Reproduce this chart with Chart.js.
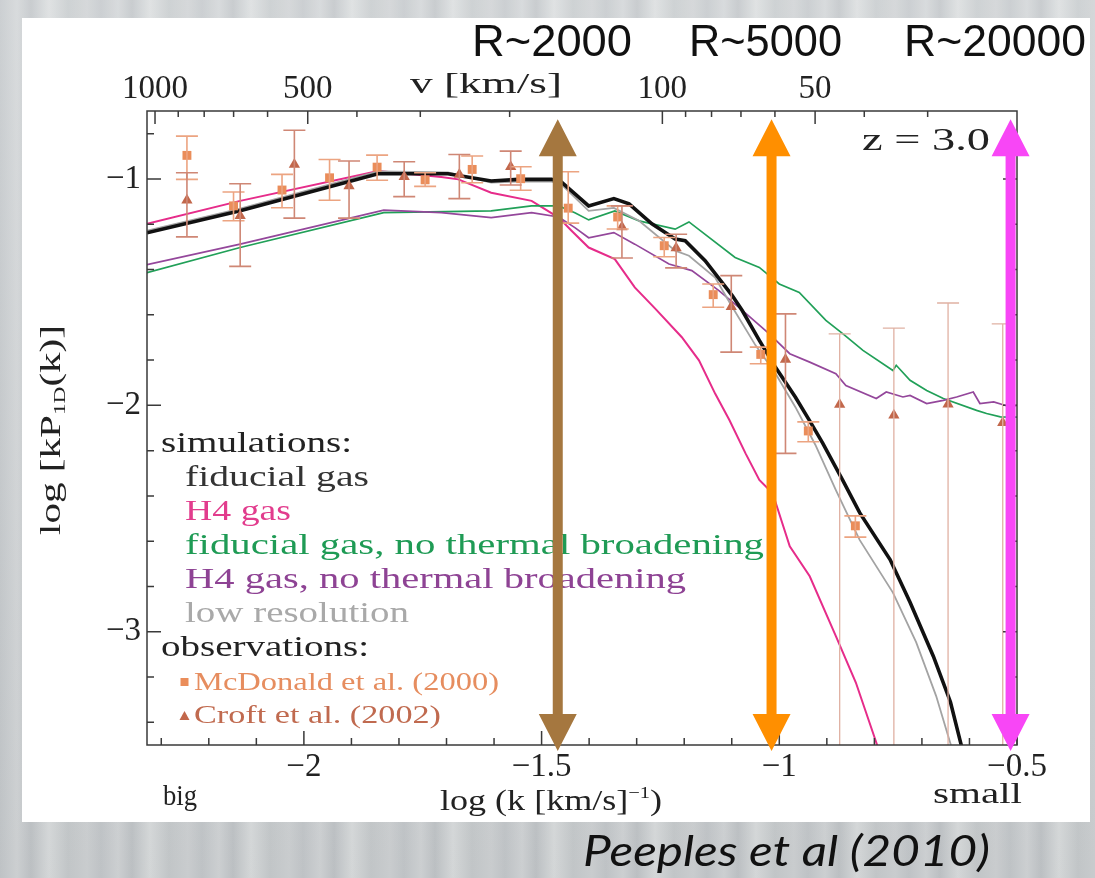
<!DOCTYPE html>
<html><head><meta charset="utf-8">
<script src="https://cdn.jsdelivr.net/npm/chart.js@4.4.1/dist/chart.umd.min.js"></script>
<style>
html,body{margin:0;padding:0;width:1095px;height:878px;overflow:hidden;}
body{background:
  linear-gradient(180deg, rgba(255,255,255,0.10), rgba(0,0,0,0.04)),
  repeating-linear-gradient(90deg,#c6cacd 0px,#d4d7d9 17px,#c3c7ca 31px,#dcdfe0 49px,#c9cdcf 68px,#d1d4d6 87px,#c6cacd 101px);}
#white{position:absolute;left:22px;top:18px;width:1068px;height:804px;background:#fff;}
#c{position:absolute;left:0;top:0;}
</style></head><body>
<div id="white"></div>
<canvas id="c" width="1095" height="878"></canvas>
<script>
// ---------- axis ranges / ticks ----------
const X_MIN = -2.33, X_MAX = -0.5;
const Y_MIN = -3.5, Y_MAX = -0.7;
const V_LOG_MIN = Math.log10(20), V_LOG_MAX = 3.0158;
const xLabelTicks = [-2, -1.5, -1, -0.5];
const xMinorTicks = [-2.3,-2.2,-2.1,-1.9,-1.8,-1.7,-1.6,-1.4,-1.3,-1.2,-1.1,-0.9,-0.8,-0.7,-0.6];
const yLabelTicks = [-3, -2, -1];
const yMinorTicks = [-3.4,-3.2,-2.8,-2.6,-2.4,-2.2,-1.8,-1.6,-1.4,-1.2,-0.8];
const vLabelTicks = [1000, 500, 100, 50];
const vMinorTicks = [900,800,700,600,400,300,200,90,80,70,60,40,30];

// ---------- simulations ----------
const fiducialX = [-2.33,-2.134,-1.844,-1.697,-1.606,-1.549,-1.479,-1.458,-1.401,-1.348,-1.316,-1.268,-1.219,-1.198,-1.156,-1.099,-1.078,-1.042,-1.008,-0.966,-0.937,-0.909,-0.867,-0.831,-0.767,-0.725,-0.676,-0.640,-0.619,-0.610];
const fiducialY = [-1.238,-1.141,-0.977,-0.977,-1.009,-1.002,-1.002,-1.014,-1.119,-1.087,-1.110,-1.198,-1.265,-1.273,-1.361,-1.515,-1.581,-1.713,-1.832,-1.964,-2.065,-2.166,-2.329,-2.474,-2.681,-2.870,-3.108,-3.310,-3.486,-3.56];
const h4X = [-2.33,-2.134,-1.844,-1.711,-1.675,-1.606,-1.521,-1.464,-1.437,-1.401,-1.346,-1.304,-1.261,-1.205,-1.169,-1.135,-1.105,-1.071,-1.042,-1.014,-0.978,-0.936,-0.881,-0.839,-0.796,-0.785];
const h4Y = [-1.198,-1.097,-0.965,-0.992,-1.002,-1.061,-1.097,-1.171,-1.229,-1.303,-1.354,-1.479,-1.573,-1.699,-1.801,-1.948,-2.065,-2.212,-2.329,-2.388,-2.623,-2.755,-3.019,-3.224,-3.489,-3.56];
const fidNoThX = [-2.33,-2.134,-1.832,-1.606,-1.521,-1.464,-1.430,-1.401,-1.346,-1.295,-1.219,-1.190,-1.093,-1.042,-1.000,-0.958,-0.902,-0.866,-0.824,-0.761,-0.754,-0.725,-0.690,-0.655,-0.585,-0.564,-0.535,-0.5];
const fidNoThY = [-1.414,-1.303,-1.149,-1.141,-1.119,-1.119,-1.149,-1.181,-1.141,-1.185,-1.222,-1.190,-1.347,-1.391,-1.464,-1.501,-1.625,-1.684,-1.757,-1.846,-1.823,-1.889,-1.934,-1.970,-2.022,-2.036,-2.051,-2.052];
const h4NoThX = [-2.33,-2.134,-1.832,-1.711,-1.606,-1.521,-1.464,-1.430,-1.401,-1.348,-1.304,-1.232,-1.184,-1.127,-1.085,-1.021,-0.978,-0.936,-0.881,-0.860,-0.796,-0.775,-0.740,-0.725,-0.690,-0.655,-0.627,-0.592,-0.578,-0.549,-0.514,-0.5];
const h4NoThY = [-1.379,-1.288,-1.138,-1.149,-1.171,-1.149,-1.168,-1.215,-1.260,-1.237,-1.288,-1.376,-1.405,-1.493,-1.567,-1.684,-1.772,-1.809,-1.860,-1.912,-1.970,-1.941,-1.963,-1.956,-1.992,-1.978,-1.963,-1.941,-1.992,-1.985,-2.007,-2.000];
const lowResX = [-2.33,-2.134,-1.844,-1.697,-1.606,-1.549,-1.479,-1.458,-1.401,-1.348,-1.295,-1.219,-1.190,-1.135,-1.103,-1.050,-1.008,-0.966,-0.924,-0.881,-0.831,-0.761,-0.712,-0.670,-0.641,-0.630];
const lowResY = [-1.229,-1.131,-0.967,-0.971,-1.016,-1.012,-1.012,-1.025,-1.141,-1.128,-1.185,-1.317,-1.339,-1.436,-1.551,-1.735,-1.859,-2.008,-2.175,-2.374,-2.594,-2.827,-3.047,-3.284,-3.487,-3.56];

// ---------- observations ----------
const mcdX  = [-2.246,-2.148,-2.046,-1.946,-1.846,-1.745,-1.646,-1.544,-1.444,-1.340,-1.242,-1.139,-1.039,-0.939,-0.840];
const mcdY  = [-0.896,-1.119,-1.049,-0.995,-0.948,-1.004,-0.958,-0.999,-1.129,-1.168,-1.295,-1.511,-1.775,-2.113,-2.532];
const mcdLo = [-1.002,-1.185,-1.127,-1.094,-1.006,-1.033,-1.017,-1.050,-1.195,-1.221,-1.344,-1.567,-1.816,-2.161,-2.582];
const mcdHi = [-0.811,-1.058,-0.980,-0.914,-0.895,-0.973,-0.899,-0.946,-0.968,-1.119,-1.259,-1.464,-1.743,-2.073,-2.488];
const croftX  = [-2.246,-2.134,-2.020,-1.905,-1.789,-1.673,-1.565,-1.331,-1.217,-1.101,-0.987,-0.873,-0.759,-0.645,-0.530];
const croftY  = [-1.094,-1.163,-0.936,-1.031,-0.990,-0.980,-0.946,-1.212,-1.305,-1.564,-1.797,-1.996,-2.044,-1.995,-2.077];
const croftLo = [-1.256,-1.386,-1.173,-1.173,-1.078,-1.087,-1.027,-1.349,-1.393,-1.765,-2.212,-4,-4,-4,-4];
const croftHi = [-0.973,-1.021,-0.785,-0.921,-0.924,-0.892,-0.877,-1.119,-1.244,-1.427,-1.596,-1.684,-1.659,-1.548,-1.640];

// ---------- resolution arrows ----------
const arrowX = [-1.466, -1.0163, -0.5135];
const arrowTopY = -0.736, arrowBottomY = -3.527;
const arrowColors = ['#a5773f', '#ff8f00', '#f846f6'];
const resolutionLabels = ['R~2000', 'R~5000', 'R~20000'];

const SERIF = '"Liberation Serif", "DejaVu Serif", serif';
const pts = (xs, ys) => xs.map((x, i) => ({x, y: ys[i]}));
const minus = v => (v < 0 ? '\u2212' : '') + Math.abs(v);

function txt(ctx, s, x, y, font, color, w) {
  ctx.save();
  ctx.font = font; ctx.fillStyle = color;
  ctx.textAlign = 'left'; ctx.textBaseline = 'alphabetic';
  const m = ctx.measureText(s).width;
  const sx = w ? w / m : 1;
  ctx.translate(x, y); ctx.scale(sx, 1);
  ctx.fillText(s, 0, 0);
  ctx.restore();
}
function rich(ctx, parts, w, color) {
  ctx.save();
  ctx.fillStyle = color; ctx.textAlign = 'left'; ctx.textBaseline = 'alphabetic';
  let tot = 0;
  parts.forEach(p => { ctx.font = p.size + 'px ' + SERIF; p.w = ctx.measureText(p.t).width; tot += p.w; });
  ctx.scale(w / tot, 1);
  let cx = 0;
  parts.forEach(p => { ctx.font = p.size + 'px ' + SERIF; ctx.fillText(p.t, cx, p.dy || 0); cx += p.w; });
  ctx.restore();
}

const errorBars = {
  id: 'errorBars',
  afterDatasetsDraw(chart) {
    const {ctx, chartArea: a} = chart;
    const xs = chart.scales.x, ys = chart.scales.y;
    const sets = [
      {X: mcdX, Lo: mcdLo, Hi: mcdHi, col: () => '#eca481', lw: () => 1.6},
      {X: croftX, Lo: croftLo, Hi: croftHi, col: i => croftLo[i] < Y_MIN ? '#e0b1a3' : '#cf8775', lw: i => croftLo[i] < Y_MIN ? 1.3 : 1.6}
    ];
    ctx.save();
    ctx.beginPath(); ctx.rect(a.left, a.top, a.right - a.left, a.bottom - a.top); ctx.clip();
    sets.forEach(s => {
      s.X.forEach((xv, i) => {
        const px = xs.getPixelForValue(xv);
        const lo = Math.max(s.Lo[i], Y_MIN - 0.05), hi = s.Hi[i];
        const pLo = ys.getPixelForValue(lo), pHi = ys.getPixelForValue(hi);
        ctx.strokeStyle = s.col(i); ctx.lineWidth = s.lw(i);
        ctx.beginPath();
        ctx.moveTo(px, pLo); ctx.lineTo(px, pHi);
        ctx.moveTo(px - 11, pHi); ctx.lineTo(px + 11, pHi);
        if (s.Lo[i] >= Y_MIN) { ctx.moveTo(px - 11, pLo); ctx.lineTo(px + 11, pLo); }
        ctx.stroke();
      });
    });
    ctx.restore();
  }
};

const frameTicks = {
  id: 'frameTicks',
  afterDatasetsDraw(chart) {
    const {ctx, chartArea: a} = chart;
    const xs = chart.scales.x, ys = chart.scales.y, vs = chart.scales.x2;
    ctx.save();
    ctx.strokeStyle = '#3a3a3a'; ctx.lineWidth = 1.5;
    ctx.beginPath();
    const tick = (list, len, f) => list.forEach(v => f(v, len));
    const bx = (v, l) => { const p = xs.getPixelForValue(v); ctx.moveTo(p, a.bottom); ctx.lineTo(p, a.bottom - l); };
    const ty = (v, l) => { const p = vs.getPixelForValue(Math.log10(v)); ctx.moveTo(p, a.top); ctx.lineTo(p, a.top + l); };
    const ly = (v, l) => { const p = ys.getPixelForValue(v); ctx.moveTo(a.left, p); ctx.lineTo(a.left + l, p); ctx.moveTo(a.right, p); ctx.lineTo(a.right - l, p); };
    tick(xLabelTicks, 14, bx); tick(xMinorTicks, 7, bx);
    tick(vLabelTicks, 13, ty); tick(vMinorTicks, 6, ty);
    tick(yLabelTicks, 14, ly); tick(yMinorTicks, 7, ly);
    ctx.stroke();
    ctx.strokeRect(a.left, a.top, a.right - a.left, a.bottom - a.top);
    ctx.restore();
  }
};

const texts = {
  id: 'texts',
  afterDatasetsDraw(chart) {
    const ctx = chart.ctx;
    const F = s => s + 'px ' + SERIF;
    // legend block
    txt(ctx, 'simulations:', 161, 452, F(29), '#222', 191);
    txt(ctx, 'fiducial gas', 185, 486, F(29), '#333', 184);
    txt(ctx, 'H4 gas', 185, 520, F(29), '#e23c8d', 106);
    txt(ctx, 'fiducial gas, no thermal broadening', 185, 554, F(29), '#1f9b55', 579);
    txt(ctx, 'H4 gas, no thermal broadening', 185, 588, F(29), '#8e4394', 501);
    txt(ctx, 'low resolution', 185, 622, F(29), '#a9a9a9', 224);
    txt(ctx, 'observations:', 161, 656, F(29), '#222', 208);
    txt(ctx, 'McDonald et al. (2000)', 194, 690, F(25), '#e68d5f', 305);
    txt(ctx, 'Croft et al. (2002)', 194, 723, F(25), '#c06a4f', 247);
    ctx.save();
    ctx.fillStyle = '#ea8d5a'; ctx.fillRect(180.5, 678, 8, 8);
    ctx.fillStyle = '#c2674b'; ctx.beginPath(); ctx.moveTo(184.5, 711); ctx.lineTo(189.5, 720); ctx.lineTo(179.5, 720); ctx.closePath(); ctx.fill();
    ctx.restore();
    // axis titles and notes
    txt(ctx, 'v [km/s]', 410, 93, F(30), '#222', 152);
    txt(ctx, 'z = 3.0', 862, 150, F(32), '#222', 128);
    txt(ctx, 'big', 163, 805, F(30), '#222', 34);
    txt(ctx, 'small', 933, 803, F(30), '#222', 89);
    ctx.save(); ctx.translate(440, 810);
    rich(ctx, [{t: 'log (k [km/s]', size: 30}, {t: '\u22121', size: 17, dy: -12}, {t: ')', size: 30}], 222, '#222');
    ctx.restore();
    ctx.save(); ctx.translate(60, 535); ctx.rotate(-Math.PI / 2);
    rich(ctx, [{t: 'log [kP', size: 30}, {t: '1D', size: 17, dy: 5}, {t: '(k)]', size: 30}], 210, '#222');
    ctx.restore();
    // resolution labels and credit
    const rx = [472, 689, 904], rw = [160, 153, 182];
    resolutionLabels.forEach((s, i) => txt(ctx, s, rx[i], 56, '44px "Liberation Sans", Arial, sans-serif', '#111', rw[i]));
    txt(ctx, 'Peeples et al (2010)', 583, 866, 'italic 42px Lato, "Open Sans", sans-serif', '#111', 407);
  }
};

const arrows = {
  id: 'arrows',
  afterDraw(chart) {
    const ctx = chart.ctx, xs = chart.scales.x, ys = chart.scales.y;
    const hl = 37, hw = 19, sw = 5;
    const t = ys.getPixelForValue(arrowTopY), b = ys.getPixelForValue(arrowBottomY);
    ctx.save();
    arrowX.forEach((xv, i) => {
      const p = xs.getPixelForValue(xv);
      ctx.fillStyle = arrowColors[i];
      ctx.beginPath();
      ctx.moveTo(p, t); ctx.lineTo(p + hw, t + hl); ctx.lineTo(p + sw, t + hl);
      ctx.lineTo(p + sw, b - hl); ctx.lineTo(p + hw, b - hl); ctx.lineTo(p, b);
      ctx.lineTo(p - hw, b - hl); ctx.lineTo(p - sw, b - hl); ctx.lineTo(p - sw, t + hl);
      ctx.lineTo(p - hw, t + hl); ctx.closePath(); ctx.fill();
    });
    ctx.restore();
  }
};

const lineDs = (label, xs, ys, color, w, order) => ({
  label, data: pts(xs, ys), showLine: true, borderColor: color, borderWidth: w,
  pointRadius: 0, tension: 0, fill: false, order
});

const tickFont = {family: SERIF, size: 33};
new Chart(document.getElementById('c'), {
  type: 'scatter',
  data: {datasets: [
    {label: 'McDonald et al. (2000)', data: pts(mcdX, mcdY), pointStyle: 'rect', pointRadius: 6.3, backgroundColor: '#ea8d5a', borderWidth: 0, order: 1},
    {label: 'Croft et al. (2002)', data: pts(croftX, croftY), pointStyle: 'triangle', pointRadius: 6.5, backgroundColor: '#c2674b', borderWidth: 0, order: 2},
    lineDs('fiducial gas', fiducialX, fiducialY, '#111111', 3.6, 3),
    lineDs('low resolution', lowResX, lowResY, '#a3a3a3', 1.8, 4),
    lineDs('H4 gas, no thermal broadening', h4NoThX, h4NoThY, '#94479b', 1.7, 5),
    lineDs('fiducial gas, no thermal broadening', fidNoThX, fidNoThY, '#21a058', 1.7, 6),
    lineDs('H4 gas', h4X, h4Y, '#e62c8a', 2.0, 7)
  ]},
  options: {
    responsive: false, animation: false, events: [],
    layout: {padding: {left: 0, right: 78, top: 0, bottom: 0}},
    plugins: {legend: {display: false}, tooltip: {enabled: false}},
    scales: {
      x: {type: 'linear', position: 'bottom', min: X_MIN, max: X_MAX,
        grid: {display: false, drawTicks: false}, border: {display: false},
        afterBuildTicks: s => { s.ticks = xLabelTicks.map(v => ({value: v})); },
        afterFit: s => { s.height = 133; },
        ticks: {autoSkip: false, maxRotation: 0, padding: 3, font: tickFont, color: '#222', callback: v => minus(v)}},
      x2: {type: 'linear', position: 'top', reverse: true, min: V_LOG_MIN, max: V_LOG_MAX,
        grid: {display: false, drawTicks: false}, border: {display: false},
        afterBuildTicks: s => { s.ticks = vLabelTicks.map(v => ({value: Math.log10(v)})); },
        afterFit: s => { s.height = 111; },
        ticks: {autoSkip: false, maxRotation: 0, padding: 2, font: tickFont, color: '#222', callback: v => String(Math.round(Math.pow(10, v)))}},
      y: {type: 'linear', position: 'left', min: Y_MIN, max: Y_MAX,
        grid: {display: false, drawTicks: false}, border: {display: false},
        afterBuildTicks: s => { s.ticks = yLabelTicks.map(v => ({value: v})); },
        afterFit: s => { s.width = 147; },
        ticks: {autoSkip: false, padding: 6, font: tickFont, color: '#222', callback: v => minus(v)}}
    }
  },
  plugins: [errorBars, frameTicks, texts, arrows]
});
</script>
</body></html>
